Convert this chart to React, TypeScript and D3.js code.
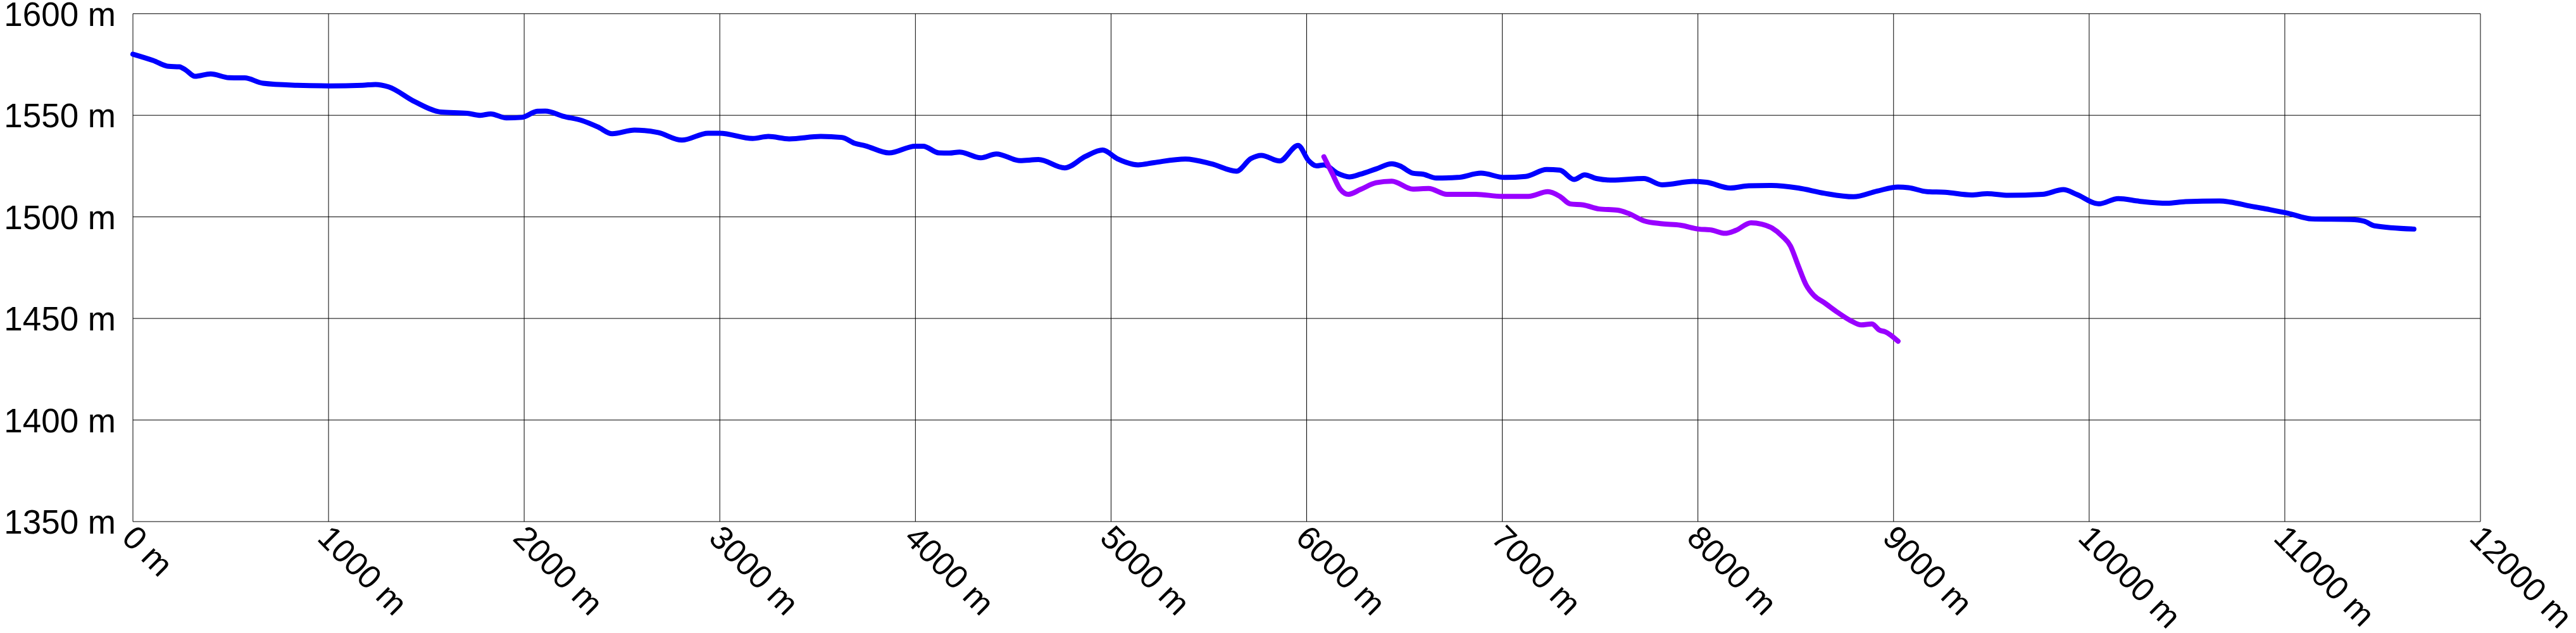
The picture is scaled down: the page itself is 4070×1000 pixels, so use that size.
import { useEffect, useRef } from 'react';
import * as d3 from 'd3';

// blue track: distance (m) / elevation (m)
const blueDist = [0, 103, 183, 237, 270, 317, 397, 491, 571, 665, 839, 1003, 1173, 1240, 1307, 1441, 1575, 1709, 1776, 1829, 1909, 1990, 2067, 2108, 2202, 2296, 2376, 2450, 2564, 2685, 2806, 2940, 3000, 3168, 3248, 3355, 3516, 3624, 3691, 3744, 3865, 3999, 4039, 4120, 4173, 4226, 4334, 4414, 4535, 4629, 4763, 4870, 4957, 5031, 5138, 5219, 5380, 5514, 5641, 5715, 5768, 5862, 5956, 6010, 6050, 6090, 6157, 6218, 6275, 6355, 6435, 6476, 6543, 6596, 6663, 6771, 6891, 7012, 7119, 7227, 7294, 7367, 7421, 7481, 7562, 7723, 7817, 7978, 8045, 8165, 8259, 8377, 8513, 8647, 8795, 8916, 9023, 9076, 9170, 9264, 9398, 9479, 9586, 9760, 9868, 9935, 10049, 10149, 10257, 10399, 10493, 10667, 10721, 10828, 10922, 11016, 11137, 11338, 11405, 11459, 11660];
const blueElev = [1580.1, 1577, 1574.1, 1573.9, 1572.3, 1569.2, 1570.4, 1568.5, 1568.4, 1565.8, 1564.8, 1564.5, 1564.8, 1565.2, 1564, 1556.7, 1551.6, 1551, 1550, 1550.7, 1548.7, 1549, 1552, 1552.1, 1549.5, 1547.4, 1544.3, 1540.9, 1542.7, 1541.5, 1537.8, 1541.2, 1541.2, 1538.6, 1539.6, 1538.4, 1539.6, 1539.1, 1536.2, 1535, 1531.5, 1534.8, 1534.8, 1531.5, 1531.4, 1531.9, 1529.1, 1531, 1527.7, 1528.2, 1524.1, 1529.8, 1532.9, 1528.7, 1525.6, 1526.7, 1528.5, 1526.1, 1522.5, 1528.7, 1530.3, 1527.5, 1535.2, 1527.7, 1525.1, 1525.6, 1521.5, 1519.7, 1521, 1523.6, 1526.1, 1525.1, 1521.5, 1521, 1519.1, 1519.4, 1521.5, 1519.4, 1519.9, 1523.3, 1523, 1518.4, 1520.7, 1518.9, 1518.1, 1518.9, 1515.8, 1517.5, 1517, 1514.2, 1515.3, 1515.5, 1514.2, 1511.6, 1509.9, 1512.7, 1514.7, 1514.4, 1512.4, 1512.1, 1510.8, 1511.4, 1510.6, 1511.1, 1513.4, 1511.1, 1506.4, 1509, 1507.7, 1506.7, 1507.5, 1507.8, 1507.3, 1505.2, 1503.6, 1501.8, 1499, 1498.7, 1497.9, 1495.6, 1494];

// purple track
const purpleDist = [6088, 6130, 6171, 6214, 6275, 6355, 6435, 6543, 6623, 6717, 6865, 6999, 7133, 7233, 7294, 7347, 7414, 7495, 7589, 7642, 7723, 7817, 7910, 8004, 8071, 8138, 8192, 8272, 8326, 8379, 8432, 8473, 8513, 8553, 8593, 8647, 8714, 8781, 8835, 8889, 8929, 8956, 9023];
const purpleElev = [1529.6, 1521.5, 1513.7, 1511.1, 1513.5, 1516.8, 1517.6, 1513.7, 1514, 1511.1, 1511.1, 1510.1, 1510.1, 1512.4, 1510.1, 1506.4, 1505.9, 1503.9, 1503.3, 1501.8, 1498.1, 1496.6, 1495.9, 1494, 1493.5, 1491.9, 1493.3, 1497.1, 1496.4, 1494.5, 1490.4, 1485.7, 1475.9, 1466.5, 1461.3, 1457.7, 1453, 1448.9, 1446.8, 1447.3, 1444.2, 1443.5, 1438.8];

const xTicks = [0, 1000, 2000, 3000, 4000, 5000, 6000, 7000, 8000, 9000, 10000, 11000, 12000];
const yTicks = [1350, 1400, 1450, 1500, 1550, 1600];

export default function App() {
  const svgRef = useRef<SVGSVGElement>(null);

  useEffect(() => {
    if (!svgRef.current) return;
    const svg = d3.select(svgRef.current);
    svg.selectAll('*').remove();

    const width = 4070;
    const height = 1000;
    const left = 210, right = 3919, top = 21.7, bottom = 824;
    const font = '"Liberation Sans", Arial, sans-serif';

    svg.attr('width', width).attr('height', height);

    const x = d3.scaleLinear().domain([0, 12000]).range([left, right]);
    const y = d3.scaleLinear().domain([1350, 1600]).range([bottom, top]);

    svg.append('rect').attr('width', width).attr('height', height).attr('fill', '#fff');

    // gridlines
    const grid = svg.append('g').attr('stroke', '#000').attr('stroke-width', 1);
    grid.selectAll('.hl')
      .data(yTicks)
      .enter()
      .append('line')
      .attr('x1', left).attr('x2', right)
      .attr('y1', d => y(d)).attr('y2', d => y(d));
    grid.selectAll('.vl')
      .data(xTicks)
      .enter()
      .append('line')
      .attr('x1', d => x(d)).attr('x2', d => x(d))
      .attr('y1', top).attr('y2', bottom);

    // y labels
    svg.append('g')
      .selectAll('text')
      .data(yTicks)
      .enter()
      .append('text')
      .attr('x', left - 27)
      .attr('y', d => y(d))
      .attr('dy', '0.36em')
      .attr('text-anchor', 'end')
      .attr('font-family', font)
      .attr('font-size', 53)
      .attr('fill', '#000')
      .text(d => `${d} m`);

    // x labels, rotated
    svg.append('g')
      .selectAll('text')
      .data(xTicks)
      .enter()
      .append('text')
      .attr('transform', d => `translate(${x(d)},${bottom}) rotate(45)`)
      .attr('x', 6)
      .attr('y', 34)
      .attr('font-family', font)
      .attr('font-size', 52)
      .attr('fill', '#000')
      .text(d => `${d} m`);

    const line = d3.line<number>()
      .x(d => x(d))
      .curve(d3.curveMonotoneX);

    svg.append('path')
      .attr('d', line.y((_, i) => y(blueElev[i]))(blueDist))
      .attr('fill', 'none')
      .attr('stroke', '#0000ff')
      .attr('stroke-width', 8)
      .attr('stroke-linejoin', 'round')
      .attr('stroke-linecap', 'round');

    svg.append('path')
      .attr('d', line.y((_, i) => y(purpleElev[i]))(purpleDist))
      .attr('fill', 'none')
      .attr('stroke', '#9900ff')
      .attr('stroke-width', 8)
      .attr('stroke-linejoin', 'round')
      .attr('stroke-linecap', 'round');
  }, []);

  return (
    <div style={{ position: 'absolute', left: 0, top: 0 }}>
      <svg ref={svgRef} style={{ display: 'block' }}></svg>
    </div>
  );
}
